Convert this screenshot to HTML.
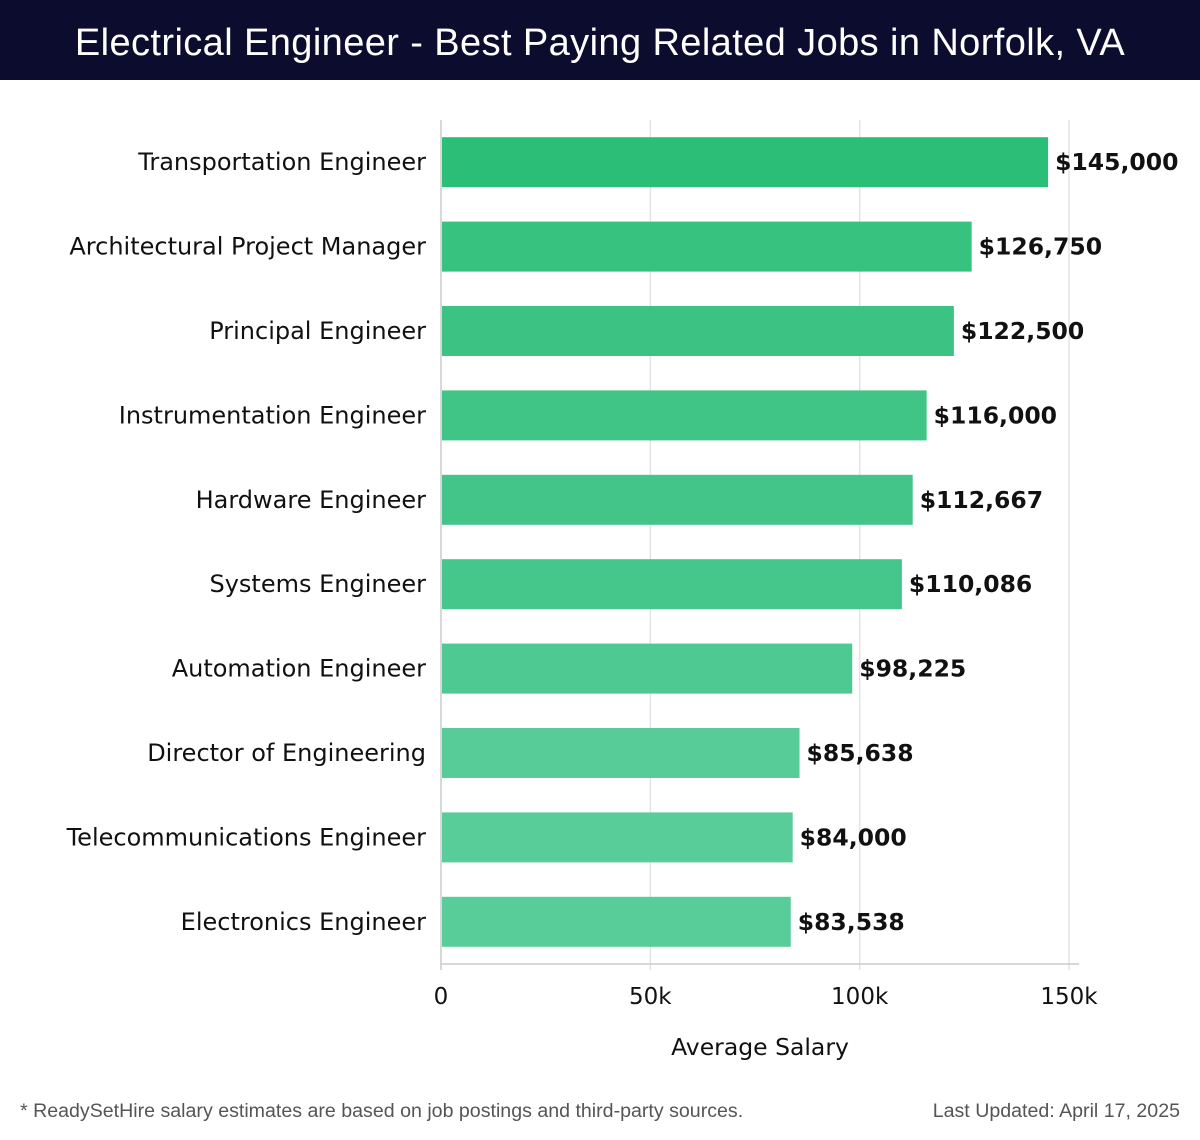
<!DOCTYPE html>
<html><head><meta charset="utf-8"><style>
html,body{margin:0;padding:0;background:#fff;width:1200px;height:1140px;overflow:hidden;font-family:"Liberation Sans","DejaVu Sans",sans-serif}
#title{position:absolute;left:0;top:0;width:1200px;height:80px;background:#0b0c2e;color:#fff;font-size:38px;line-height:86px;text-align:center;font-weight:300;letter-spacing:0.4px}
.foot{position:absolute;top:1100px;font-size:19.6px;color:#555}
svg text{font-family:"DejaVu Sans",sans-serif}
</style></head><body>
<div id="title">Electrical Engineer - Best Paying Related Jobs in Norfolk, VA</div>
<svg id="chart" width="1200" height="1140" style="position:absolute;left:0;top:0"></svg>
<div class="foot" style="left:20px">* ReadySetHire salary estimates are based on job postings and third-party sources.</div>
<div class="foot" style="right:20px">Last Updated: April 17, 2025</div>
<script>
const categories=["Transportation Engineer","Architectural Project Manager","Principal Engineer","Instrumentation Engineer","Hardware Engineer","Systems Engineer","Automation Engineer","Director of Engineering","Telecommunications Engineer","Electronics Engineer"];
const values=[145000,126750,122500,116000,112667,110086,98225,85638,84000,83538];
const valueLabels=["$145,000","$126,750","$122,500","$116,000","$112,667","$110,086","$98,225","$85,638","$84,000","$83,538"];
const ticks=[0,50000,100000,150000];
const tickLabels=["0","50k","100k","150k"];

const NS="http://www.w3.org/2000/svg";
const svg=document.getElementById('chart');
const X0=441,X1=1069,XMAX=150000,TOP=120,BOT=964;
const band=(BOT-TOP)/categories.length, barH=50;
const x=v=>X0+(X1-X0)*v/XMAX;
const yc=i=>TOP+band*(i+0.5);
function mk(t,a){const e=document.createElementNS(NS,t);for(const k in a)e.setAttribute(k,a[k]);svg.appendChild(e);return e;}
ticks.forEach((t,i)=>{
  const g=mk('line',{x1:x(t),x2:x(t),y1:TOP,y2:970,stroke:i===0?'#ccc':'#e3e3e3','stroke-width':1.5});
  
  
  const l=mk('text',{x:x(t),y:1004,'text-anchor':'middle','font-size':23,fill:'#111'});
  l.textContent=tickLabels[i];
  
  
});
const ax=mk('line',{x1:X0,x2:1079,y1:BOT,y2:BOT,stroke:'#ccc','stroke-width':1.5});


const c0=[43,190,118],c1=[88,204,153];
categories.forEach((c,i)=>{
  const f=Math.min(1,Math.max(0,(XMAX*0.967-values[i])/(XMAX*0.967-84000)));
  const col=`rgb(${c0.map((v,k)=>Math.round(v+(c1[k]-v)*f)).join(',')})`;
  const r=mk('rect',{x:X0+1,y:yc(i)-barH/2,width:x(values[i])-X0-1,height:barH,fill:col});
  
  
  const lab=mk('text',{x:426,y:yc(i)+8,'text-anchor':'end','font-size':24,fill:'#111'});
  lab.textContent=c;
  
  
  const v=mk('text',{x:x(values[i])+7,y:yc(i)+8,'font-size':23.5,'font-weight':'bold',fill:'#111'});
  v.textContent=valueLabels[i];
  
  
});
const at=mk('text',{x:760,y:1055,'text-anchor':'middle','font-size':23.5,fill:'#111'});
at.textContent='Average Salary';


</script>
</body></html>
